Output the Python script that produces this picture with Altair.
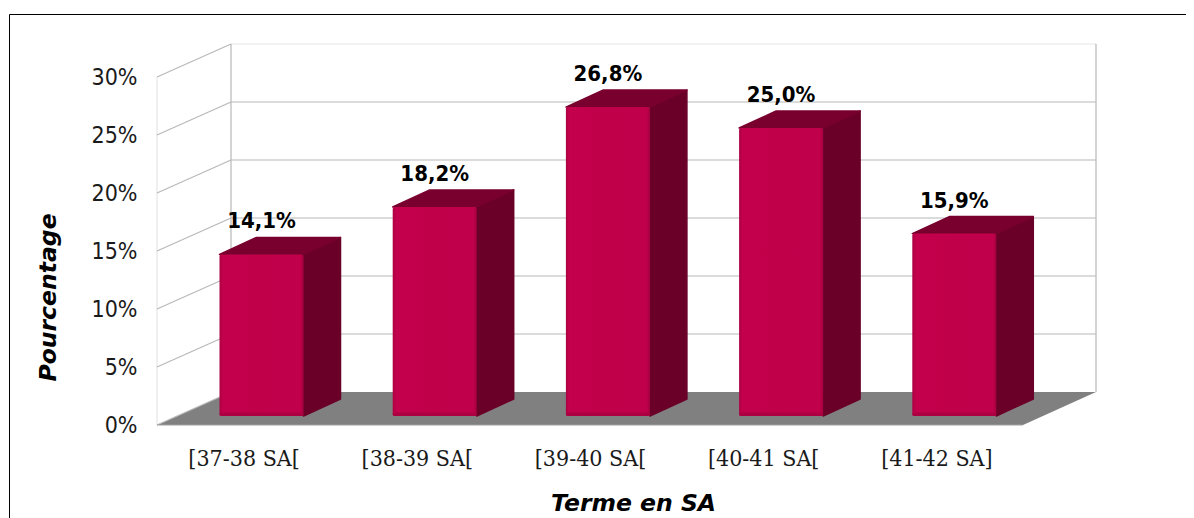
import altair as alt
import pandas as pd

# Chart values
categories = ["[37-38 SA[", "[38-39 SA[", "[39-40 SA[", "[40-41 SA[", "[41-42 SA]"]
values = [14.1, 18.2, 26.8, 25.0, 15.9]
labels = ["14,1%", "18,2%", "26,8%", "25,0%", "15,9%"]
ticks = [0, 5, 10, 15, 20, 25, 30]

# Pseudo-3D projection, in scale units
PX = 11.6
W, H = 939, 381
FLOOR_W = 866
DEPTH_X = 74
DEPTH_Y = 33 / PX
CAT_W = FLOOR_W / 5
BAR_START = 62.5
BAR_W = 84
BAR_DX = 37
BAR_DY = 17 / PX
BASE = 9 / PX
TOP_OFF = 7 / PX
YMAX = H / PX

x_scale = alt.Scale(domain=[0, W], nice=False, zero=False)
y_scale = alt.Scale(domain=[0, YMAX], nice=False, zero=False)

centers = [CAT_W * (i + 0.5) for i in range(5)]
cat_js = "[" + ",".join(f"'{c}'" for c in categories) + "]"

x_axis = alt.Axis(
    values=centers,
    labelExpr=f"{cat_js}[round((datum.value-{CAT_W / 2})/{CAT_W})]",
    grid=False, ticks=False, domain=False, labelOverlap=False, labelFlush=False,
    labelFont="DejaVu Serif Condensed", labelFontSize=23, labelColor="#1a1a1a", labelPadding=22,
    title="Terme en SA", titleFont="DejaVu Sans", titleFontSize=23.5, titleFontWeight="bold",
    titleFontStyle="italic", titleColor="#000000", titleX=476, titleY=78,
    titleAlign="center", titleBaseline="middle",
)
y_axis = alt.Axis(
    values=ticks, labelExpr="datum.value + '%'",
    grid=False, ticks=False, domain=False,
    labelFont="DejaVu Sans Condensed", labelFontSize=23, labelColor="#1a1a1a", labelPadding=20,
    title="Pourcentage", titleFont="DejaVu Sans", titleFontSize=23.5, titleFontWeight="bold",
    titleFontStyle="italic", titleColor="#000000", titleX=-109, titleY=253,
    titleAlign="center", titleBaseline="middle",
)


def X(field="x"):
    return alt.X(f"{field}:Q", scale=x_scale, axis=x_axis)


def Y(field="y"):
    return alt.Y(f"{field}:Q", scale=y_scale, axis=y_axis)


# Floor
floor = pd.DataFrame({
    "x": [0, DEPTH_X, FLOOR_W, W],
    "y": [0, DEPTH_Y, DEPTH_Y, DEPTH_Y],
    "y2": [0, 0, 0, DEPTH_Y],
})
floor_layer = alt.Chart(floor).mark_area(color="#808080").encode(
    x=X(), y=Y(), y2="y2:Q"
)

# Walls
grid_rows = []
for t in ticks:
    grid_rows += [
        {"id": f"s{t}", "x": 0, "y": t},
        {"id": f"s{t}", "x": DEPTH_X, "y": t + DEPTH_Y},
    ]
    if 0 < t < 30:
        grid_rows += [
            {"id": f"b{t}", "x": DEPTH_X, "y": t + DEPTH_Y},
            {"id": f"b{t}", "x": W, "y": t + DEPTH_Y},
        ]
grid_rows += [
    {"id": "v0", "x": DEPTH_X, "y": DEPTH_Y},
    {"id": "v0", "x": DEPTH_X, "y": YMAX},
    {"id": "v1", "x": W, "y": DEPTH_Y},
    {"id": "v1", "x": W, "y": YMAX},
]
grid_layer = alt.Chart(pd.DataFrame(grid_rows)).mark_line(color="#b8b8b8", strokeWidth=1.2).encode(
    x=X(), y=Y(), detail="id:N"
)
light = pd.DataFrame([
    {"id": "l", "x": 0, "y": 0},
    {"id": "l", "x": 0, "y": 30},
    {"id": "t", "x": DEPTH_X, "y": YMAX},
    {"id": "t", "x": W, "y": YMAX},
])
light_layer = alt.Chart(light).mark_line(color="#e6e6e6", strokeWidth=1.2).encode(
    x=X(), y=Y(), detail="id:N"
)
edge = pd.DataFrame({"x": [0, FLOOR_W], "y": [0, 0]})
edge_layer = alt.Chart(edge).mark_line(color="#a0a0a0", strokeWidth=1.2).encode(x=X(), y=Y())

# Bars
side_rows, top_rows, front_rows = [], [], []
for i, v in enumerate(values):
    xl = BAR_START + i * CAT_W
    xr = xl + BAR_W
    top = v + TOP_OFF
    side_rows += [
        {"b": i, "x": xr, "y": top, "y2": BASE},
        {"b": i, "x": xr + BAR_DX, "y": top + BAR_DY, "y2": BASE + BAR_DY},
    ]
    top_rows += [
        {"b": i, "x": xl, "y": top, "y2": top},
        {"b": i, "x": xl + BAR_DX, "y": top + BAR_DY, "y2": top},
        {"b": i, "x": xr, "y": top + BAR_DY, "y2": top},
        {"b": i, "x": xr + BAR_DX, "y": top + BAR_DY, "y2": top + BAR_DY},
    ]
    front_rows.append({"x": xl, "x2": xr, "y": top, "y2": BASE, "yb": BASE + 0.3,
                       "lx": xl + BAR_W / 2, "ly": top + BAR_DY, "label": labels[i]})
front = pd.DataFrame(front_rows)

side_layer = alt.Chart(pd.DataFrame(side_rows)).mark_area(
    color="#6a0028", stroke="#6a0028", strokeWidth=1.5, strokeJoin="round"
).encode(x=X(), y=Y(), y2="y2:Q", detail="b:N")
top_layer = alt.Chart(pd.DataFrame(top_rows)).mark_area(
    color="#79002e", stroke="#79002e", strokeWidth=1.5, strokeJoin="round"
).encode(x=X(), y=Y(), y2="y2:Q", detail="b:N")

front_fill = alt.Gradient(
    gradient="linear", x1=0, x2=1, y1=0, y2=0,
    stops=[
        alt.GradientStop(offset=0, color="#ac0043"),
        alt.GradientStop(offset=0.04, color="#c2004b"),
        alt.GradientStop(offset=0.96, color="#c0004a"),
        alt.GradientStop(offset=1, color="#a50040"),
    ],
)
front_layer = alt.Chart(front).mark_rect(fill=front_fill, cornerRadius=2).encode(
    x=X(), x2="x2:Q", y=Y(), y2="y2:Q"
)
band_layer = alt.Chart(front).mark_rect(fill="#ad0043", cornerRadius=2).encode(
    x=X(), x2="x2:Q", y=Y("yb"), y2="y2:Q"
)
label_layer = alt.Chart(front).mark_text(
    font="DejaVu Sans Condensed", fontWeight="bold", fontSize=22, color="#000000",
    baseline="middle", align="center", dy=-16,
).encode(
    x=X("lx"),
    y=Y("ly"),
    text="label:N",
)

# Outer frame, cut by the picture
frame_data = pd.DataFrame({"a": [0]})
frame_left = alt.Chart(frame_data).mark_rule(color="#000000", strokeWidth=1).encode(
    x=alt.value(-147.5), y=alt.value(-29.5), y2=alt.value(H + 100)
)
frame_top = alt.Chart(frame_data).mark_rule(color="#000000", strokeWidth=1).encode(
    y=alt.value(-29.5), x=alt.value(-147.5), x2=alt.value(W + 110)
)

chart = alt.layer(
    floor_layer, light_layer, grid_layer, edge_layer,
    side_layer, top_layer, front_layer, band_layer, label_layer,
    frame_left, frame_top,
).properties(
    width=W, height=H,
    autosize=alt.AutoSizeParams(type="none"),
    padding={"left": 149, "top": 36, "right": 90, "bottom": 93},
    background="#ffffff",
).configure_view(stroke=None)

chart.save("out.html", embed_options={"renderer": "svg", "actions": False})
